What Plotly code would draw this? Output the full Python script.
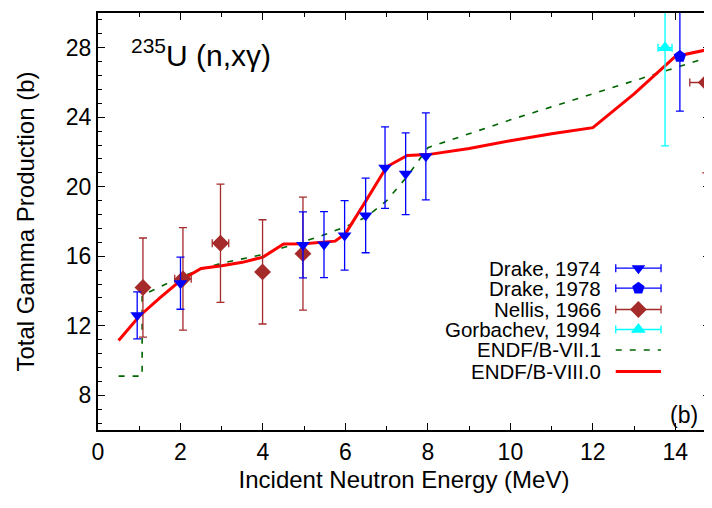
import plotly.graph_objects as go

# ---------------- data ----------------
drake74_x = [0.95, 2.0, 4.97, 5.48, 5.98, 6.49, 6.96, 7.46, 7.95]
drake74_y = [12.6, 14.45, 16.65, 16.67, 17.2, 18.35, 21.1, 20.75, 21.75]
drake74_err = [1.35, 1.5, 1.9, 1.9, 2.0, 2.15, 2.35, 2.35, 2.5]

drake78_x = [14.11]
drake78_y = [27.5]
drake78_err = [3.15]

nellis_x = [1.09, 2.06, 2.97, 3.99, 4.97, 14.75]
nellis_y = [14.2, 14.7, 16.75, 15.1, 16.15, 26.0]
nellis_err = [2.85, 2.95, 3.4, 3.0, 3.25, 5.2]
nellis_xerr = [0.0, 0.2, 0.2, 0.0, 0.0, 0.4]

gorb_x = [13.75]
gorb_y = [28.0]
gorb_err = [5.65]
gorb_xerr = [0.17]

endf71_x = [0.5, 1.07, 1.07, 1.5, 2.0, 2.5, 3.0, 3.5, 4.0, 4.5, 5.0, 5.5, 6.0, 6.5,
            7.0, 7.5, 8.0, 9.0, 10.0, 11.0, 12.0, 13.0, 14.0, 15.0]
endf71_y = [9.1, 9.1, 13.75, 14.25, 14.8, 15.25, 15.6, 15.85, 16.1, 16.5, 16.85, 17.25, 17.7, 18.25,
            19.2, 20.6, 22.25, 23.05, 23.85, 24.6, 25.35, 26.1, 26.85, 27.6]

endf80_x = [0.5, 1.0, 1.5, 2.0, 2.5, 3.0, 3.5, 4.0, 4.5, 5.0, 5.75, 6.0, 6.5, 7.0, 7.5,
            8.0, 9.0, 10.0, 11.0, 12.0, 13.0, 14.0, 15.0]
endf80_y = [11.15, 12.55, 13.6, 14.6, 15.3, 15.45, 15.65, 15.95, 16.7, 16.72, 16.87, 17.3, 19.2,
            21.15, 21.8, 21.85, 22.2, 22.65, 23.05, 23.4, 25.35, 27.5, 28.0]

x_ticks = [0, 2, 4, 6, 8, 10, 12, 14]
y_ticks = [8, 12, 16, 20, 24, 28]

legend_labels = ["Drake, 1974", "Drake, 1978", "Nellis, 1966", "Gorbachev, 1994",
                 "ENDF/B-VII.1", "ENDF/B-VIII.0"]

# ---------------- styles ----------------
FONT = "Liberation Sans, Arial, Helvetica, sans-serif"
BLUE = "#0000FF"
BROWN = "#A52A2A"
CYAN = "#00FFFF"
GREEN = "#006400"
RED = "#FF0000"

fig = go.Figure()

fig.add_trace(go.Scatter(x=endf71_x, y=endf71_y, mode="lines",
                         line=dict(color=GREEN, width=1.6, dash="6px,8px"), showlegend=False))
fig.add_trace(go.Scatter(x=endf80_x, y=endf80_y, mode="lines",
                         line=dict(color=RED, width=3), showlegend=False))

fig.add_trace(go.Scatter(x=nellis_x, y=nellis_y, mode="markers",
                         marker=dict(symbol="diamond", size=13, color=BROWN),
                         error_y=dict(type="data", array=nellis_err, color=BROWN, thickness=1.3, width=4),
                         error_x=dict(type="data", array=nellis_xerr, color=BROWN, thickness=1.3, width=4),
                         showlegend=False))
fig.add_trace(go.Scatter(x=drake74_x, y=drake74_y, mode="markers",
                         marker=dict(symbol="triangle-down", size=12, color=BLUE),
                         error_y=dict(type="data", array=drake74_err, color=BLUE, thickness=1.3, width=4),
                         showlegend=False))
fig.add_trace(go.Scatter(x=drake78_x, y=drake78_y, mode="markers",
                         marker=dict(symbol="pentagon", size=13, color=BLUE),
                         error_y=dict(type="data", array=drake78_err, color=BLUE, thickness=1.3, width=4),
                         showlegend=False))
fig.add_trace(go.Scatter(x=gorb_x, y=gorb_y, mode="markers",
                         marker=dict(symbol="triangle-up", size=13, color=CYAN),
                         error_y=dict(type="data", array=gorb_err, color=CYAN, thickness=1.3, width=4),
                         error_x=dict(type="data", array=gorb_xerr, color=CYAN, thickness=1.3, width=4),
                         showlegend=False))

# ---------------- gnuplot-style key (text left, sample right) ----------------
row_y = [0.388, 0.340, 0.289, 0.241, 0.192, 0.140]
key_text_x = 0.825
key_mid = 0.883
key_half = 0.037
key_markers = [("triangle-down", 12, BLUE), ("pentagon", 13, BLUE), ("diamond", 13, BROWN),
               ("triangle-up", 13, CYAN)]
for i, (sym, sz, col) in enumerate(key_markers):
    fig.add_trace(go.Scatter(x=[key_mid], y=[row_y[i]], xaxis="x2", yaxis="y2", mode="markers",
                             marker=dict(symbol=sym, size=sz, color=col),
                             error_x=dict(type="constant", value=key_half, color=col, thickness=1.3, width=4),
                             showlegend=False, hoverinfo="skip"))
fig.add_trace(go.Scatter(x=[key_mid - key_half, key_mid + key_half], y=[row_y[4], row_y[4]],
                         xaxis="x2", yaxis="y2", mode="lines",
                         line=dict(color=GREEN, width=1.6, dash="6px,8px"), showlegend=False, hoverinfo="skip"))
fig.add_trace(go.Scatter(x=[key_mid - key_half, key_mid + key_half], y=[row_y[5], row_y[5]],
                         xaxis="x2", yaxis="y2", mode="lines",
                         line=dict(color=RED, width=3), showlegend=False, hoverinfo="skip"))

annotations = []
for lab, yy in zip(legend_labels, row_y):
    annotations.append(dict(x=key_text_x, y=yy, xref="x2", yref="y2", text=lab, showarrow=False,
                            xanchor="right", yanchor="middle", font=dict(family=FONT, size=20.5, color="black")))
annotations.append(dict(x=0.05, y=0.905, xref="x2", yref="y2", text="<sup>235</sup>U (n,xγ)",
                        showarrow=False, xanchor="left", yanchor="middle",
                        font=dict(family=FONT, size=30, color="black")))
annotations.append(dict(x=0.984, y=0.036, xref="x2", yref="y2", text="(b)", showarrow=False,
                        xanchor="right", yanchor="middle", font=dict(family=FONT, size=23, color="black")))

axis_common = dict(showgrid=False, zeroline=False, showline=True, linecolor="black", linewidth=2,
                   mirror="allticks", ticks="inside", ticklen=7, tickwidth=1, tickcolor="black",
                   tickfont=dict(family=FONT, size=23, color="black"))

fig.update_layout(
    width=712, height=508,
    margin=dict(l=90, r=10, t=5, b=86, autoexpand=False),
    paper_bgcolor="white", plot_bgcolor="white",
    showlegend=False,
    xaxis=dict(range=[0, 14.84], tickvals=x_ticks,
               minor=dict(dtick=1, tick0=0, ticks="inside", ticklen=4, tickcolor="black"),
               title=dict(text="Incident Neutron Energy (MeV)", font=dict(family=FONT, size=24, color="black"),
                          standoff=8),
               automargin=False, **axis_common),
    yaxis=dict(range=[6, 30], tickvals=y_ticks,
               minor=dict(dtick=0.8, tick0=8, ticks="inside", ticklen=4, tickcolor="black"),
               title=dict(text="Total Gamma Production (b)", font=dict(family=FONT, size=24, color="black"),
                          standoff=24),
               automargin=False, **axis_common),
    xaxis2=dict(range=[0, 1], overlaying="x", anchor="y2", visible=False, fixedrange=True),
    yaxis2=dict(range=[0, 1], overlaying="y", anchor="x2", visible=False, fixedrange=True),
    annotations=annotations,
)

fig.write_html("out.html")
